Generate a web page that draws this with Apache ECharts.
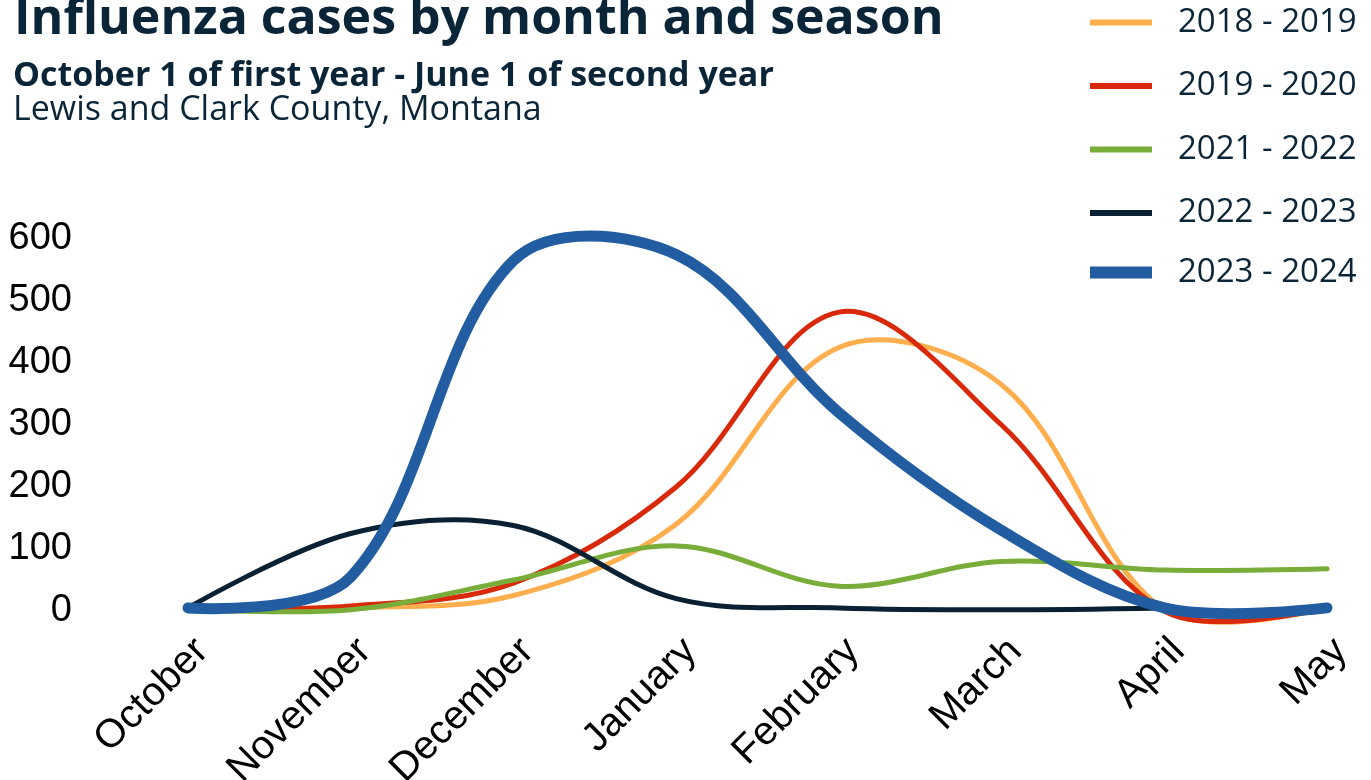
<!DOCTYPE html>
<html>
<head>
<meta charset="utf-8">
<script src="https://cdn.jsdelivr.net/npm/echarts@6/dist/echarts.min.js"></script>
<style>
html,body{margin:0;padding:0;background:#fff;}
#chart{width:1371px;height:780px;}
</style>
</head>
<body>
<div id="chart"></div>
<script>
const months = ['October','November','December','January','February','March','April','May'];
const yTicks = [0, 100, 200, 300, 400, 500, 600];
const season1819 = [2, 5, 25, 140, 425, 365, 2, 5];
const season1920 = [2, 8, 45, 200, 482, 300, 0, 5];
const season2122 = [3, 2, 50, 105, 40, 80, 66, 68];
const season2223 = [5, 125, 138, 20, 5, 2, 5];
const season2324 = [5, 55, 565, 575, 320, 130, 5, 5];

const seriesDefs = [
  {name: '2018 - 2019', data: season1819, color: '#FFAE4E', width: 5},
  {name: '2019 - 2020', data: season1920, color: '#D9290B', width: 5},
  {name: '2021 - 2022', data: season2122, color: '#79AD3A', width: 5},
  {name: '2022 - 2023', data: season2223, color: '#0A2133', width: 5},
  {name: '2023 - 2024', data: season2324, color: '#225DA2', width: 11}
];

const navy = '#0B2538';
const legendText = {fontFamily: 'Open Sans', fontSize: 33, lineHeight: 32, color: navy, padding: [0, 0, 0, 21]};

function makeSeries(s) {
  return {
    name: s.name,
    type: 'custom',
    clip: false,
    itemStyle: {color: s.color},
    data: s.data.map((v, i) => [i, v]),
    encode: {x: 0, y: 1},
    renderItem: function (params, api) {
      if (params.dataIndex !== 0) return null;
      const pts = s.data.map((v, i) => api.coord([i, v]));
      return {
        type: 'polyline',
        shape: {points: pts, smooth: 0.35},
        style: {stroke: s.color, lineWidth: s.width, fill: null, lineCap: 'round', lineJoin: 'round'}
      };
    }
  };
}

const chart = echarts.init(document.getElementById('chart'));
chart.setOption({
  backgroundColor: '#fff',
  animation: false,
  title: [
    {text: 'Influenza cases by month and season', left: 14, top: -5, padding: 0,
     textStyle: {fontFamily: 'Open Sans', fontWeight: 'bold', fontSize: 50, color: navy}},
    {text: 'October 1 of first year - June 1 of second year', left: 13, top: 59, padding: 0,
     textStyle: {fontFamily: 'Open Sans', fontWeight: 'bold', fontSize: 34, color: navy}},
    {text: 'Lewis and Clark County, Montana', left: 13, top: 93, padding: 0,
     textStyle: {fontFamily: 'Open Sans', fontWeight: 'normal', fontSize: 34, color: navy}}
  ],
  legend: [
    {
      orient: 'vertical', left: 1090, top: 6, padding: 0,
      itemWidth: 62, itemHeight: 6, itemGap: 30.5, icon: 'rect',
      textStyle: legendText,
      data: seriesDefs.slice(0, 4).map(s => s.name)
    },
    {
      orient: 'vertical', left: 1090, top: 256, padding: 0,
      itemWidth: 62, itemHeight: 12, icon: 'rect',
      textStyle: legendText,
      data: [seriesDefs[4].name]
    }
  ],
  grid: {left: 188, right: 44, top: 239, bottom: 169, containLabel: false, outerBoundsMode: 'none'},
  xAxis: {
    type: 'category',
    data: months,
    boundaryGap: false,
    axisLine: {show: false},
    axisTick: {show: false},
    splitLine: {show: false},
    axisLabel: {rotate: 45, margin: 20, verticalAlign: 'top', fontFamily: 'Liberation Sans', fontSize: 40, color: '#000', interval: 0}
  },
  yAxis: {
    type: 'value',
    min: yTicks[0],
    max: yTicks[yTicks.length - 1],
    interval: 100,
    axisLine: {show: false},
    axisTick: {show: false},
    splitLine: {show: false},
    axisLabel: {margin: 116, fontFamily: 'Liberation Sans', fontSize: 38, color: '#000'}
  },
  series: seriesDefs.map(makeSeries)
});
</script>
</body>
</html>
